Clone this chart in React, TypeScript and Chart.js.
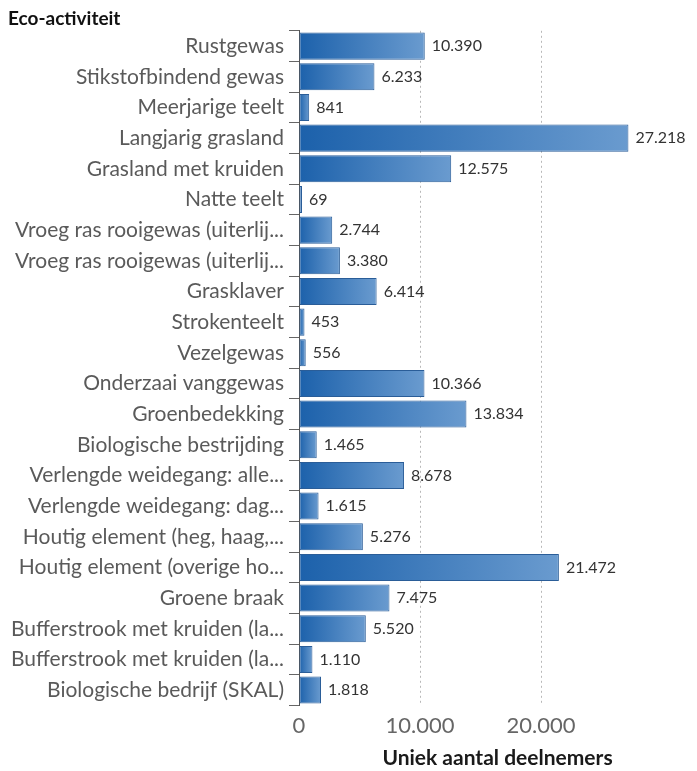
import React, { useEffect, useRef } from "react";
import { Chart, registerables } from "chart.js";

Chart.register(...registerables);

const categories = [
  "Rustgewas",
  "Stikstofbindend gewas",
  "Meerjarige teelt",
  "Langjarig grasland",
  "Grasland met kruiden",
  "Natte teelt",
  "Vroeg ras rooigewas (uiterlij...",
  "Vroeg ras rooigewas (uiterlij...",
  "Grasklaver",
  "Strokenteelt",
  "Vezelgewas",
  "Onderzaai vanggewas",
  "Groenbedekking",
  "Biologische bestrijding",
  "Verlengde weidegang: alle...",
  "Verlengde weidegang: dag...",
  "Houtig element (heg, haag,...",
  "Houtig element (overige ho...",
  "Groene braak",
  "Bufferstrook met kruiden (la...",
  "Bufferstrook met kruiden (la...",
  "Biologische bedrijf (SKAL)",
];

const values = [
  10390, 6233, 841, 27218, 12575, 69, 2744, 3380, 6414, 453, 556, 10366, 13834,
  1465, 8678, 1615, 5276, 21472, 7475, 5520, 1110, 1818,
];

const xTicks = [0, 10000, 20000];
const xMax = 32800;
const yTitle = "Eco-activiteit";
const xTitle = "Uniek aantal deelnemers";

const fmt = (v: number) => String(v).replace(/\B(?=(\d{3})+(?!\d))/g, ".");

const valueLabels = {
  id: "valueLabels",
  afterDatasetsDraw(chart: any) {
    const ctx = chart.ctx;
    const meta = chart.getDatasetMeta(0);
    ctx.save();
    ctx.font = "16px Lato";
    ctx.fillStyle = "#333";
    ctx.textAlign = "left";
    ctx.textBaseline = "middle";
    meta.data.forEach((el: any, i: number) => {
      ctx.fillText(fmt(values[i]), el.x + 7, el.y);
    });
    ctx.restore();
  },
};

export default function App() {
  const ref = useRef<HTMLCanvasElement | null>(null);

  useEffect(() => {
    if (!ref.current) return;
    const chart = new Chart(ref.current, {
      type: "bar",
      data: {
        labels: categories,
        datasets: [
          {
            data: values,
            backgroundColor: (c: any) => {
              const chart = c.chart;
              const area = chart.chartArea;
              if (!area || c.raw === undefined || !chart.scales.x) return "#2f6fb3";
              const xs = chart.scales.x;
              const x0 = xs.getPixelForValue(0);
              const x1 = xs.getPixelForValue(c.raw);
              const g = chart.ctx.createLinearGradient(x0, 0, Math.max(x1, x0 + 1), 0);
              g.addColorStop(0, "#1c61ab");
              g.addColorStop(1, "#6a9bcf");
              return g;
            },
            borderColor: "#2a5d98",
            borderWidth: 1,
            borderSkipped: false,
            minBarLength: 3,
            barPercentage: 0.9,
            categoryPercentage: 0.98,
          },
        ],
      },
      options: {
        indexAxis: "y",
        animation: false,
        responsive: true,
        maintainAspectRatio: false,
        layout: { padding: { left: 8, right: 1, top: 0, bottom: 0 } },
        plugins: {
          legend: { display: false },
          tooltip: { enabled: false },
          title: {
            display: true,
            text: yTitle,
            align: "start",
            color: "#111",
            font: { family: "Lato", size: 19, weight: "bold" },
            padding: { top: 7, bottom: 1 },
          },
        },
        scales: {
          x: {
            type: "linear",
            min: 0,
            max: xMax,
            afterBuildTicks: (scale: any) => {
              scale.ticks = xTicks.map((v) => ({ value: v }));
            },
            ticks: {
              color: "#666",
              font: { family: "Lato", size: 22 },
              padding: 7,
              callback: (v: any) => fmt(Number(v)),
            },
            grid: {
              drawTicks: false,
              color: (c: any) => (c.tick && c.tick.value === 0 ? "rgba(0,0,0,0)" : "#b8b8b8"),
              lineWidth: 1,
            },
            border: { display: false, dash: [2, 3] },
            title: {
              display: true,
              text: xTitle,
              color: "#1a1a1a",
              font: { family: "Lato", size: 21, weight: "bold" },
              padding: { top: 0, bottom: 0 },
            },
          },
          y: {
            afterFit: (scale: any) => {
              scale.width = 291;
            },
            ticks: {
              color: "#5a5a5a",
              font: { family: "Lato", size: 21 },
              padding: 5,
              autoSkip: false,
            },
            grid: {
              drawOnChartArea: false,
              drawTicks: true,
              tickLength: 10,
              tickColor: "#666",
              color: "#666",
            },
            border: { display: true, color: "#555" },
          },
        },
      },
      plugins: [valueLabels],
    } as any);
    return () => chart.destroy();
  }, []);

  return (
    <div style={{ position: "fixed", left: 0, top: 0, width: 697, height: 771, background: "#fff" }}>
      <canvas ref={ref} />
    </div>
  );
}
